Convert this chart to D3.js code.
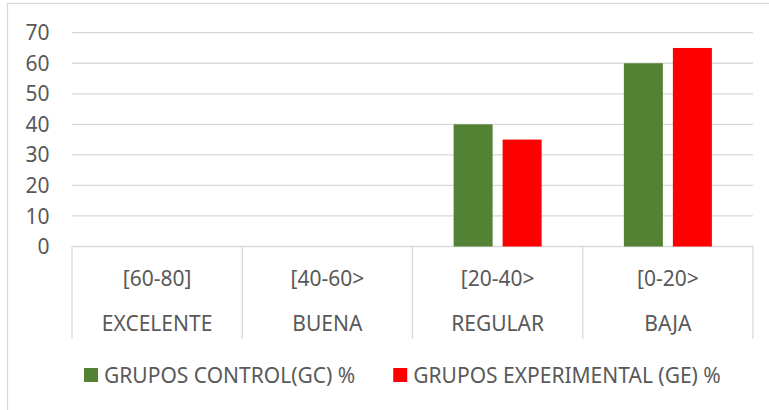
<!DOCTYPE html>
<html lang="es">
<head>
<meta charset="UTF-8">
<title>Grupos control y experimental</title>
<style>
  body { margin: 0; background: #fff; }
  svg { display: block; font-family: "Noto Sans", sans-serif; }
</style>
</head>
<body>
<svg id="chart"></svg>
<script src="https://d3js.org/d3.v7.min.js"></script>
<script>
// data
const ranges = ['[60-80]', '[40-60>', '[20-40>', '[0-20>'];
const levels = ['EXCELENTE', 'BUENA', 'REGULAR', 'BAJA'];
const seriesNames = ['GRUPOS CONTROL(GC) %', 'GRUPOS EXPERIMENTAL (GE) %'];
const controlValues = [0, 0, 40, 60];
const experimentalValues = [0, 0, 35, 65];
const yTicks = [0, 10, 20, 30, 40, 50, 60, 70];

const colors = ['#548235', '#ff0000'];
const W = 769, H = 410;
const fontSize = 21;
const plot = { left: 72, right: 753, top: 32.7, bottom: 246.5, catBottom: 339 };

const svg = d3.select('#chart').attr('width', W).attr('height', H);

// outer chart border (runs off the right and bottom of the picture)
svg.append('rect')
  .attr('x', 7.5).attr('y', 3.5)
  .attr('width', W + 20).attr('height', H + 20)
  .attr('fill', 'none').attr('stroke', '#d9d9d9').attr('stroke-width', 1.3);

const x0 = d3.scaleBand().domain(d3.range(ranges.length)).range([plot.left, plot.right]);
const x1 = d3.scaleBand().domain(d3.range(seriesNames.length))
  .range([0, x0.bandwidth()]).paddingInner(0.204).paddingOuter(0.839);
const y = d3.scaleLinear().domain([0, 70]).range([plot.bottom, plot.top]);

// gridlines
svg.append('g').selectAll('line').data(yTicks).join('line')
  .attr('x1', plot.left).attr('x2', plot.right)
  .attr('y1', d => y(d)).attr('y2', d => y(d))
  .attr('stroke', '#d9d9d9').attr('stroke-width', 1.3);

// y labels
svg.append('g').selectAll('text').data(yTicks).join('text')
  .attr('x', 49.5).attr('y', d => y(d)).attr('dy', '0.36em')
  .attr('text-anchor', 'end').attr('font-size', fontSize).attr('fill', '#595959')
  .text(d => d);

// category dividers
const dividers = x0.domain().map(i => x0(i)).concat([plot.right]);
svg.append('g').selectAll('line').data(dividers).join('line')
  .attr('x1', d => d).attr('x2', d => d)
  .attr('y1', plot.bottom).attr('y2', plot.catBottom)
  .attr('stroke', '#d9d9d9').attr('stroke-width', 1.3);

// bars
const series = [controlValues, experimentalValues];
series.forEach((vals, s) => {
  svg.append('g').selectAll('rect').data(vals).join('rect')
    .attr('x', (d, i) => x0(i) + x1(s))
    .attr('width', x1.bandwidth())
    .attr('y', d => y(d))
    .attr('height', d => y(0) - y(d))
    .attr('fill', colors[s]);
});

// category labels (two rows)
const catG = svg.append('g').attr('font-size', fontSize).attr('fill', '#595959').attr('text-anchor', 'middle');
catG.selectAll('text.range').data(ranges).join('text')
  .attr('class', 'range')
  .attr('x', (d, i) => x0(i) + x0.bandwidth() / 2).attr('y', 286)
  .text(d => d);
catG.selectAll('text.level').data(levels).join('text')
  .attr('class', 'level')
  .attr('x', (d, i) => x0(i) + x0.bandwidth() / 2).attr('y', 331)
  .text(d => d);

// legend
const legend = svg.append('g').attr('transform', 'translate(84, 368)');
let lx = 0;
seriesNames.forEach((name, s) => {
  const item = legend.append('g').attr('transform', `translate(${lx},0)`);
  item.append('rect').attr('width', 14).attr('height', 14).attr('fill', colors[s]);
  const t = item.append('text').attr('x', 20).attr('y', 7).attr('dy', '0.36em')
    .attr('font-size', fontSize).attr('fill', '#595959').text(name);
  lx += 20 + t.node().getComputedTextLength() + 38;
});
</script>
</body>
</html>
